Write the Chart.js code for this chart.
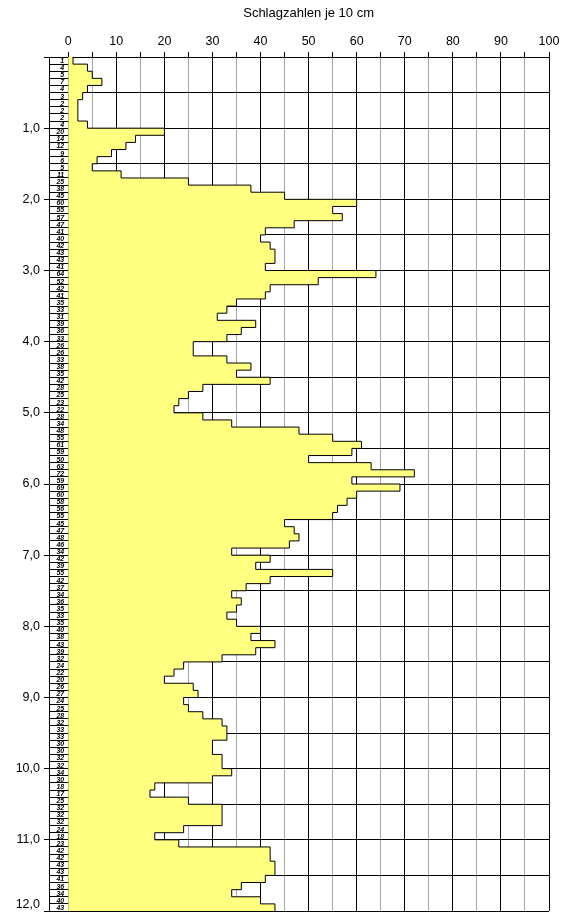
<!DOCTYPE html>
<html>
<head>
<meta charset="utf-8">
<script src="https://cdn.jsdelivr.net/npm/chart.js@4"></script>
<style>
  body { margin: 0; background: #fff; }
  canvas { display: block; }
</style>
</head>
<body>
<canvas id="ramm" width="570" height="912"></canvas>
<script>
// blow counts per 10 cm, from 0,0 m down to 12,0 m
const blows = [
  1, 4, 5, 7, 4, 3, 2, 2, 2, 4,
  20, 14, 12, 9, 6, 5, 11, 25, 38, 45,
  60, 55, 57, 47, 41, 40, 42, 43, 43, 41,
  64, 52, 42, 41, 35, 33, 31, 39, 36, 33,
  26, 26, 33, 38, 35, 42, 28, 25, 23, 22,
  28, 34, 48, 55, 61, 59, 50, 63, 72, 59,
  69, 60, 58, 56, 55, 45, 47, 48, 46, 34,
  42, 39, 55, 42, 37, 34, 36, 35, 33, 35,
  40, 38, 43, 39, 32, 24, 22, 20, 26, 27,
  24, 25, 28, 32, 33, 33, 30, 30, 32, 32,
  34, 30, 18, 17, 25, 32, 32, 32, 24, 18,
  23, 42, 42, 43, 43, 41, 36, 34, 40, 43
];
const depthLabels = [1, 2, 3, 4, 5, 6, 7, 8, 9, 10, 11, 12];
const blowTicks = [0, 5, 10, 15, 20, 25, 30, 35, 40, 45, 50, 55, 60, 65, 70, 75, 80, 85, 90, 95, 100];
const depthGrid = [0, 0.5, 1, 1.5, 2, 2.5, 3, 3.5, 4, 4.5, 5, 5.5, 6, 6.5, 7, 7.5, 8, 8.5, 9, 9.5, 10, 10.5, 11, 11.5, 12];
const title = 'Schlagzahlen je 10 cm';

const FONT = 'Liberation Sans, Arial, sans-serif';
Chart.defaults.font.family = FONT;
Chart.defaults.color = '#000';

// points at top of each 10 cm step, plus closing point at the bottom
const points = blows.map((v, i) => ({ x: v, y: i / 10 }));
points.push({ x: blows[blows.length - 1], y: blows.length / 10 });

// labels column, depth labels and title
const extras = {
  id: 'extras',
  afterDraw(chart) {
    const ctx = chart.ctx;
    const xs = chart.scales.x, ys = chart.scales.y;
    const left = xs.left, zero = xs.getPixelForValue(0);
    ctx.save();
    ctx.strokeStyle = '#000';
    ctx.lineWidth = 1;
    ctx.fillStyle = '#000';
    ctx.font = 'italic bold 7px ' + FONT;
    ctx.textAlign = 'right';
    ctx.textBaseline = 'middle';
    blows.forEach((v, i) => {
      const y0 = ys.getPixelForValue(i / 10);
      const y1 = ys.getPixelForValue((i + 1) / 10);
      if ((i + 1) % 5 !== 0) {
        ctx.beginPath();
        ctx.moveTo(left, Math.floor(y1) + 0.5);
        ctx.lineTo(zero, Math.floor(y1) + 0.5);
        ctx.stroke();
      }
      ctx.fillText(String(v), zero - 4, (y0 + y1) / 2 + 0.5);
    });
    ctx.font = '12.5px ' + FONT;
    depthLabels.forEach(d => {
      const y = Math.min(ys.getPixelForValue(d), 905);
      ctx.fillText(d.toFixed(1).replace('.', ','), 40, y);
    });
    ctx.textAlign = 'center';
    ctx.font = '13px ' + FONT;
    ctx.fillText(title, xs.getPixelForValue(50), 13);
    ctx.restore();
  }
};

new Chart(document.getElementById('ramm'), {
  type: 'line',
  data: {
    datasets: [{
      data: points,
      stepped: 'after',
      borderColor: '#000',
      borderWidth: 1,
      backgroundColor: '#ffff80',
      fill: { value: 0 },
      pointRadius: 0,
      tension: 0
    }]
  },
  options: {
    indexAxis: 'y',
    responsive: false,
    animation: false,
    layout: { padding: { left: 0, right: 21, top: 0, bottom: 1 } },
    plugins: { legend: { display: false }, tooltip: { enabled: false } },
    scales: {
      x: {
        type: 'linear',
        position: 'top',
        min: -4,
        max: 100,
        z: 1,
        afterBuildTicks: s => { s.ticks = blowTicks.map(v => ({ value: v })); },
        afterFit: s => { s.height = 57; },
        ticks: {
          font: { size: 12.5 },
          padding: 3,
          maxRotation: 0,
          autoSkip: false,
          callback: v => (v % 10 === 0 ? String(v) : '')
        },
        grid: {
          color: c => (c.tick && c.tick.value % 10 === 0 ? '#000' : '#a6a6a6'),
          tickColor: '#000',
          tickLength: 5
        },
        border: { color: '#000', width: 1 }
      },
      y: {
        type: 'linear',
        reverse: true,
        min: 0,
        max: 12,
        z: 1,
        afterBuildTicks: s => { s.ticks = depthGrid.map(v => ({ value: v })); },
        afterFit: s => { s.width = 49; },
        ticks: { display: false },
        grid: {
          color: '#000',
          tickColor: c => (c.tick && Number.isInteger(c.tick.value) ? '#000' : 'rgba(0,0,0,0)'),
          tickLength: 5
        },
        border: { color: '#000', width: 1 }
      }
    }
  },
  plugins: [extras]
});
</script>
</body>
</html>
